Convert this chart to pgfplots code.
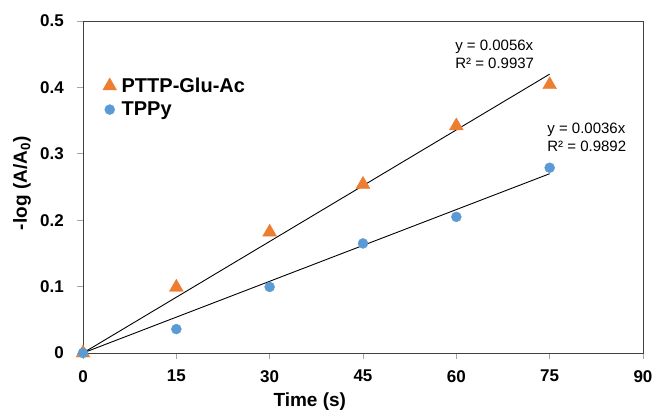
\documentclass[border=0pt]{standalone}
\usepackage{pgfplots}
\pgfplotsset{compat=1.18}
\usepackage{fontspec}
\setmainfont{Liberation Sans}
\definecolor{xorange}{HTML}{ED7D31}
\definecolor{xblue}{HTML}{5B9BD5}
\definecolor{xframe}{HTML}{404040}
\begin{document}
\begin{tikzpicture}
\path[use as bounding box] (-83pt,-59pt) rectangle (575pt,353pt);
\begin{axis}[
  at={(0pt,0pt)}, anchor=south west,
  scale only axis, width=560pt, height=332pt,
  xmin=0, xmax=90, ymin=0, ymax=0.5,
  xtick={0,15,30,45,60,75,90},
  ytick={0,0.1,0.2,0.3,0.4,0.5},
  yticklabels={0,0.1,0.2,0.3,0.4,0.5},
  /pgf/number format/assume math mode=true,
  axis lines=box,
  axis line style={draw=xframe, line width=0.8pt},
  tick align=outside, tick pos=left,
  major tick length=6pt,
  major tick style={draw=gray!70, line width=0.8pt},
  ticklabel style={font=\bfseries\fontsize{17}{17}\selectfont},
  yticklabel style={inner sep=0pt, xshift=-13pt},
  xticklabel style={inner sep=0pt, yshift=-11pt},
  clip=false,
  xlabel={Time (s)},
  ylabel={-log (A/A\textsubscript{0})},
  every axis x label/.style={at={(axis description cs:0.405,0)}, yshift=-49pt, anchor=center, font=\bfseries\fontsize{19}{20}\selectfont},
  every axis y label/.style={at={(axis description cs:0,0.511)}, xshift=-61pt, rotate=90, anchor=center, font=\bfseries\fontsize{19}{20}\selectfont},
  legend style={at={(axis description cs:0.035,0.835)}, anchor=north west, draw=none, fill=none,
    font=\bfseries\fontsize{20}{20}\selectfont, row sep=4pt, inner sep=0pt,
    nodes={inner xsep=5pt}},
  legend cell align=left,
]
\addplot[only marks, mark=triangle*, mark size=8pt, color=xorange] coordinates {
  (0,0) (15,0.099) (30,0.182) (45,0.254) (60,0.342) (75,0.404)};
\addlegendentry{PTTP-Glu-Ac}
\addplot[only marks, mark=*, mark size=5pt, color=xblue] coordinates {
  (0,0) (15,0.036) (30,0.0995) (45,0.165) (60,0.205) (75,0.279)};
\addlegendentry{TPPy}
\addplot[black, line width=0.9pt, forget plot] coordinates {(0,0) (75,0.42)};
\addplot[black, line width=0.9pt, forget plot] coordinates {(0,0) (75,0.27)};
\node[anchor=west, align=left, inner sep=0pt, font=\fontsize{15}{18}\selectfont] at (axis cs:59.8,0.4505) {y = 0.0056x\\R² = 0.9937};
\node[anchor=west, align=left, inner sep=0pt, font=\fontsize{15}{18}\selectfont] at (axis cs:74.6,0.3255) {y = 0.0036x\\R² = 0.9892};
\end{axis}
\end{tikzpicture}
\end{document}
